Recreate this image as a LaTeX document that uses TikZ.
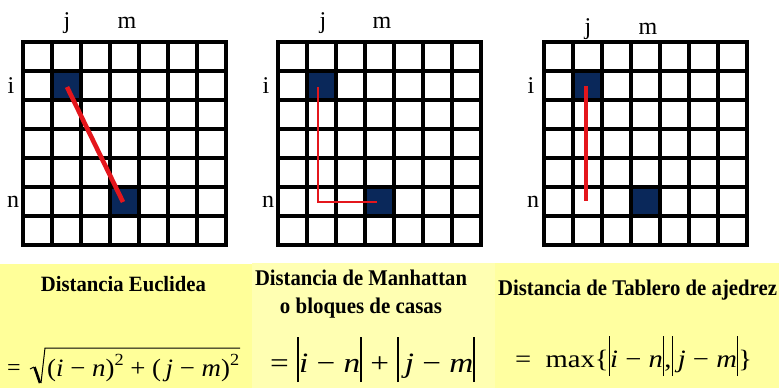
\documentclass[tikz,border=0pt]{standalone}
\usepackage{fontspec}
\setmainfont{Liberation Serif}
\usepackage{graphicx}
\definecolor{cellblue}{RGB}{10,40,90}
\definecolor{linered}{RGB}{228,22,28}
\definecolor{yelA}{RGB}{255,255,153}
\definecolor{yelB}{RGB}{255,255,178}
\definecolor{yelC}{RGB}{255,255,160}
\newcommand{\myfit}[3]{\resizebox{#1}{\height}{\fontsize{#2}{#2}\selectfont #3}}
\newcommand{\mytall}[3]{\resizebox{#1}{1.12\height}{\fontsize{#2}{#2}\selectfont #3}}
\newcommand{\vbar}{\rule[-0.36em]{0.055em}{1.6em}}
\newcommand{\sqd}{\raisebox{0.42em}{\fontsize{17}{17}\selectfont 2}}
\tikzset{
  gridline/.style={line width=4pt, black, line cap=rect},
  lab/.style={anchor=base, inner sep=0pt, font=\fontsize{24}{24}\selectfont},
  title/.style={anchor=base, inner sep=0pt},
  formula/.style={anchor=base west, inner sep=0pt},
  redline/.style={linered, line width=4.6pt}
}
\begin{document}
\begin{tikzpicture}[x=1pt,y=-1pt]
\useasboundingbox (0,0) rectangle (779,388);
\fill[white] (0,0) rectangle (779,388);
% yellow band
\fill[yelA] (0,264) rectangle (252,388);
\fill[yelB] (252,263) rectangle (495,388);
\fill[yelC] (495,263) rectangle (779,388);
% grids
\foreach \gx in {23,278,543.5} {
  \fill[cellblue] (\gx+29,71) rectangle (\gx+58,100);
  \fill[cellblue] (\gx+87,187) rectangle (\gx+116,216);
  \foreach \k in {0,...,7} {
    \draw[gridline] (\gx+29*\k,42) -- (\gx+29*\k,245);
    \draw[gridline] (\gx,42+29*\k) -- (\gx+203,42+29*\k);
  }
}
% labels
\node[lab] (j1) at (67,28) {j};
\node[lab] (m1) at (127,28) {m};
\node[lab] (i1) at (11,93) {i};
\node[lab] (n1) at (13,207) {n};
\node[lab] (j2) at (323,28) {j};
\node[lab] (m2) at (382,28) {m};
\node[lab] (i2) at (266,93) {i};
\node[lab] (n2) at (268,207) {n};
\node[lab] (j3) at (588,34) {j};
\node[lab] (m3) at (648,34) {m};
\node[lab] (i3) at (531,93) {i};
\node[lab] (n3) at (533,207) {n};
% red paths
\coordinate (a1) at (67,87);
\coordinate (b1) at (123,202);
\draw[redline] (a1) -- (b1);
\coordinate (a2) at (318,87);
\coordinate (c2) at (318,202);
\coordinate (b2) at (377,202);
\draw[linered, line width=2.4pt] (a2) -- (c2) -- (b2);
\coordinate (a3) at (586,86);
\coordinate (b3) at (586,201);
\draw[redline, line width=4.2pt] (a3) -- (b3);
% titles
\node[title] (t1) at (123.5,291) {\mytall{165pt}{19.5}{\bfseries Distancia Euclidea}};
\node[title] (t2a) at (361,285) {\mytall{212pt}{20}{\bfseries Distancia de Manhattan}};
\node[title] (t2b) at (361,313) {\mytall{162pt}{20}{\bfseries o bloques de casas}};
\node[title] (t3) at (637.5,295) {\mytall{279pt}{20}{\bfseries Distancia de Tablero de ajedrez}};
% formulas
\node[formula] (f1eq) at (7,375) {\fontsize{24}{24}\selectfont =};
\node[formula] (f1) at (47,376) {\myfit{192pt}{25}{(\textit{i} − \textit{n})\sqd{} + (\,\textit{j} − \textit{m})\sqd}};
\draw[line width=1pt, line join=miter] (30,369) -- (34,367) (41,383) -- (45,348) -- (240,348);
\draw[line width=2.6pt] (34.5,367) -- (40,383);
\node[formula] (f2) at (270,372) {\myfit{205pt}{28}{= \vbar\textit{i} − \textit{n}\vbar{} + \vbar\,\textit{j} − \textit{m}\vbar}};
\node[formula] (f3) at (515,367) {\myfit{237pt}{25}{=\enspace max\{\vbar\textit{i} − \textit{n}\vbar,\vbar\,\textit{j} − \textit{m}\vbar\}}};
\end{tikzpicture}
\end{document}
